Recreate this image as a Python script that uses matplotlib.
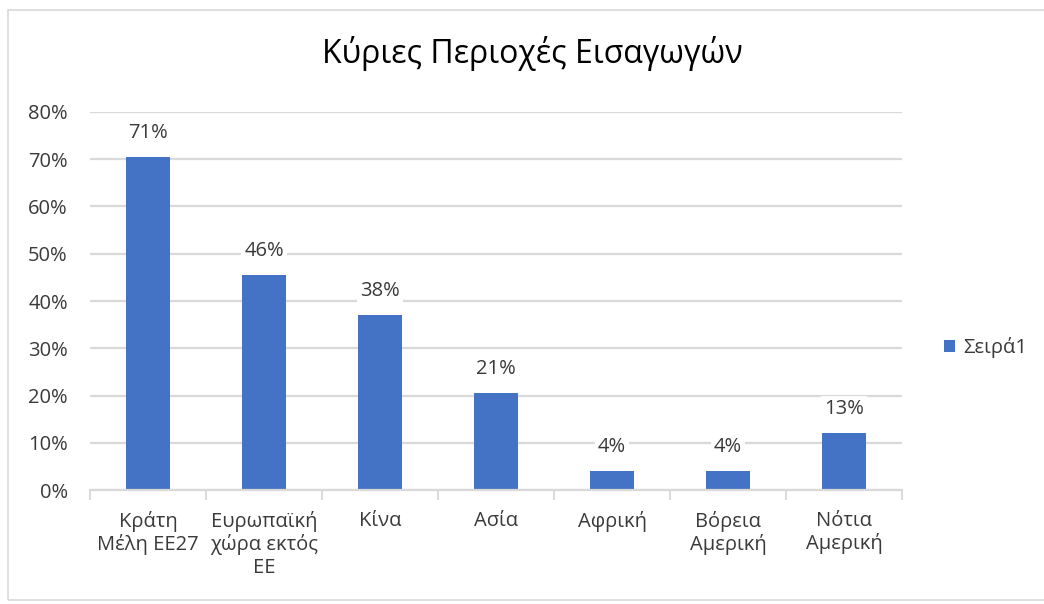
import matplotlib.pyplot as plt
from matplotlib.patches import Rectangle
import numpy as np

plt.rcParams['font.family'] = ['Open Sans', 'DejaVu Sans']

categories = ["Κράτη\nΜέλη ΕΕ27", "Ευρωπαϊκή\nχώρα εκτός\nΕΕ", "Κίνα", "Ασία",
              "Αφρική", "Βόρεια\nΑμερική", "Νότια\nΑμερική"]
values = [0.705, 0.455, 0.37, 0.205, 0.04, 0.04, 0.12]
value_labels = ["71%", "46%", "38%", "21%", "4%", "4%", "13%"]
y_ticks = [0.0, 0.1, 0.2, 0.3, 0.4, 0.5, 0.6, 0.7, 0.8]

bar_color = '#4472C4'
grid_color = '#D9D9D9'
text_color = '#3A3A3A'
fs = 14.5

fig = plt.figure(figsize=(10.44, 6.04), dpi=100)
ax = fig.add_axes([0.0862, 0.1887, 0.7778, 0.6259])

x = np.arange(len(categories))
ax.bar(x, values, width=0.38, color=bar_color, zorder=2, label="Σειρά1")

for xi, v, lab in zip(x, values, value_labels):
    ax.annotate(lab, (xi, v), xytext=(0, 10), textcoords='offset points',
                ha='center', va='bottom', fontsize=fs, color=text_color,
                bbox=dict(boxstyle='square,pad=0.15', fc='white', ec='none'),
                zorder=3)

ax.set_xlim(-0.5, len(categories) - 0.5)
ax.set_ylim(0, 0.8)
ax.set_yticks(y_ticks)
ax.set_yticklabels([f"{int(round(t * 100))}%" for t in y_ticks],
                   fontsize=fs, color=text_color)
ax.yaxis.grid(True, color=grid_color, linewidth=1.6, zorder=0)
ax.set_axisbelow(True)
ax.tick_params(axis='y', length=0, pad=16)

ax.set_xticks(x)
ax.set_xticklabels(categories, fontsize=fs, color=text_color, linespacing=1.15)
ax.tick_params(axis='x', length=0, pad=15)
ax.set_xticks(np.arange(len(categories) + 1) - 0.5, minor=True)
ax.tick_params(axis='x', which='minor', length=7, width=1.4, color=grid_color)

for s in ['top', 'right', 'left']:
    ax.spines[s].set_visible(False)
ax.spines['bottom'].set_color(grid_color)
ax.spines['bottom'].set_linewidth(1.6)

fig.suptitle("Κύριες Περιοχές Εισαγωγών", x=0.51, y=0.94, fontsize=23,
             color='black')

fig.legend(loc='center left', bbox_to_anchor=(0.893, 0.424), frameon=False,
           fontsize=14.5, handlelength=0.55, handleheight=0.55,
           handletextpad=0.4, borderaxespad=0.2, labelcolor=text_color)

fig.patches.append(Rectangle((0.008, 0.006), 1.2, 0.978, transform=fig.transFigure,
                             fill=False, edgecolor='#D9D9D9', linewidth=1.2))

plt.savefig("out.png", dpi=100)
